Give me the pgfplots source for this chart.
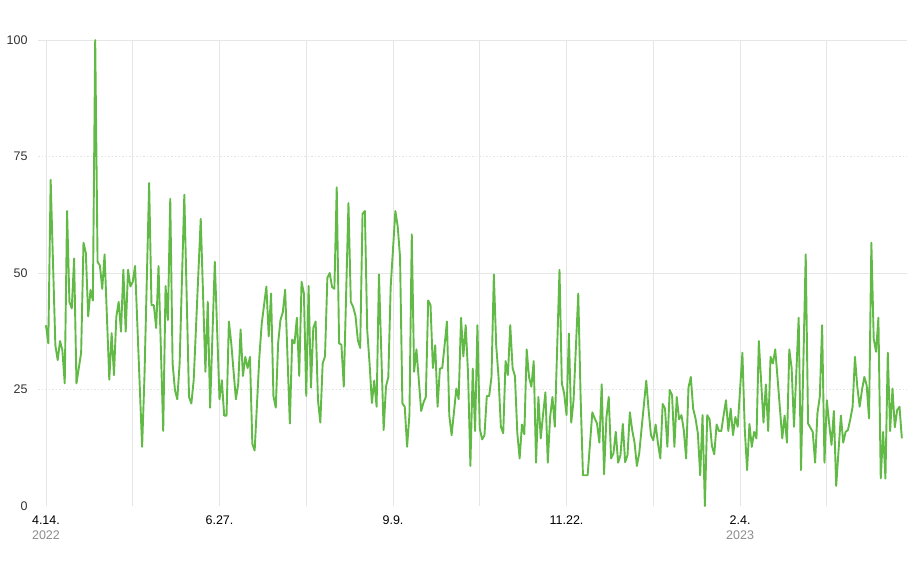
\documentclass[border=0pt]{standalone}
\usepackage{fontspec}
\setmainfont{Liberation Sans}
\usepackage{pgfplots}
\pgfplotsset{compat=1.18}
\definecolor{linegreen}{RGB}{98,186,70}
\definecolor{gridgray}{RGB}{230,230,230}
\definecolor{dotgray}{RGB}{228,228,228}
\definecolor{labgray}{RGB}{51,51,51}
\definecolor{yeargray}{RGB}{140,140,140}

\begin{document}
\begin{tikzpicture}
\useasboundingbox (-38pt,-54pt) rectangle (871pt,506pt);
\begin{axis}[
  at={(0,0)}, anchor=south west,
  scale only axis, width=869pt, height=466pt,
  xmin=-3.4, xmax=367.2, ymin=0, ymax=100,
  axis line style={draw=none},
  major tick length=0pt,
  xtick={0,37,...,333},
  xticklabels={{4.14.\\\textcolor{yeargray}{2022}},,6.27.,,9.9.,,11.22.,,{2.4.\\\textcolor{yeargray}{2023}},},
  xmajorgrids,
  grid style={gridgray, line width=0.8pt},
  ytick={0,25,50,75,100},
  font=\fontsize{12.5}{15}\selectfont,
  yticklabel style={text=labgray, xshift=-7pt},
  xticklabel style={align=center, text=black, yshift=-6.5pt},
  /pgf/number format/assume math mode=true,
  clip=false,
]
% horizontal guides: solid at 50/100, dotted at 25/75
\draw[gridgray, line width=0.8pt] (rel axis cs:0,0.5) -- (rel axis cs:1,0.5);
\draw[gridgray, line width=0.8pt] (rel axis cs:0,1) -- (rel axis cs:1,1);
\draw[dotgray, line width=0.7pt, dash pattern=on 1.5pt off 2pt] (rel axis cs:0,0.25) -- (rel axis cs:1,0.25);
\draw[dotgray, line width=0.7pt, dash pattern=on 1.5pt off 2pt] (rel axis cs:0,0.75) -- (rel axis cs:1,0.75);

\addplot[linegreen, line width=1.9pt, line join=round, mark=none] coordinates {
(0,38.8) (1,34.9) (2,70) (4,34.5) (5,31.3) (6,35.4) (7,33.4) (8,26.3) (9,63.3) (10,43.8)
(11,42.4) (12,53.1) (13,26.3) (15,32.9) (16,56.5) (17,54.3) (18,40.7) (19,46.4) (20,44.1) (21,100)
(22,52.4) (23,51.6) (24,46.6) (25,54) (27,27.1) (28,37.1) (29,28.1) (30,40.6) (31,43.8) (32,37.4)
(33,50.7) (34,37.4) (35,50.7) (36,47.1) (37,48.1) (38,51.5) (41,12.7) (42,27.7) (44,69.3) (45,43.1)
(46,43.1) (47,38.2) (48,51.5) (50,16.1) (51,47.2) (52,39.9) (53,65.9) (54,30.6) (55,24.9) (56,22.9)
(57,30.6) (59,66.8) (61,23.4) (62,22) (63,27) (66,61.6) (68,28.8) (69,43.8) (70,21.1) (72,52.4)
(74,22.9) (75,27) (76,19.4) (77,19.4) (78,39.6) (79,35) (81,22.9) (82,26.3) (83,37.9) (84,27.9)
(85,32) (86,29.6) (87,32) (88,13.4) (89,11.9) (91,32) (92,39.1) (94,47.1) (95,36.4) (96,45.6)
(97,23.6) (98,21.1) (99,34.9) (100,39.9) (101,41.6) (102,46.4) (104,17.7) (105,35.7) (106,34.9) (107,40.4)
(108,27.9) (109,48.1) (110,45.6) (111,23.6) (112,47.2) (113,25.4) (114,38.2) (115,39.6) (116,22.7) (117,17.9)
(118,30.6) (119,32.1) (120,49) (121,50) (122,47) (123,46.6) (124,68.4) (125,34.9) (126,34.6) (127,25.6)
(129,65) (130,43.8) (131,42.7) (132,40.8) (133,35.6) (134,33.9) (135,62.7) (136,63.3) (137,37.7) (138,30.6)
(139,22.1) (140,26.9) (141,21.3) (142,49.7) (144,16.3) (145,25.6) (146,27.7) (147,47) (149,63.3) (150,60)
(151,53.4) (152,22) (153,21.3) (154,12.7) (155,19.5) (156,58.3) (157,28.8) (158,33.6) (160,20.4) (161,22.2)
(162,23.4) (163,44.1) (164,43.1) (165,29.6) (166,34.5) (167,21.3) (168,29.5) (169,29.6) (170,34.5) (171,39.6)
(172,19.4) (173,15.2) (175,25.2) (176,22.9) (177,40.4) (178,32.1) (179,38.8) (180,28.4) (181,8.6) (182,29.5)
(183,16.1) (184,38.8) (185,16.6) (186,14.3) (187,15.2) (188,23.6) (189,23.6) (190,27.7) (191,49.7) (192,34.5)
(193,27.7) (194,17) (195,15.6) (196,31.1) (197,28.1) (198,38.8) (199,29.6) (200,27.9) (201,15.7) (202,10.2)
(203,17.5) (204,15.4) (205,33.6) (206,27.7) (207,25.6) (208,31.1) (209,9.3) (210,23.4) (211,14.5) (212,19.7)
(213,24.4) (214,9.3) (215,19.1) (216,23.4) (217,17) (219,50.7) (220,26.3) (221,24.1) (222,19.5) (223,37)
(224,17.9) (225,22.7) (227,45.6) (228,23.4) (229,6.6) (231,6.6) (233,20.1) (234,18.8) (235,17.7) (236,13.6)
(237,26.1) (238,6.8) (239,18.9) (240,23.4) (241,10.2) (242,11.3) (243,15.9) (244,9.3) (245,10.9) (246,17.6)
(247,9.4) (248,10.9) (249,20.1) (250,16.3) (251,13.6) (252,8.6) (253,11.3) (254,16.6) (256,26.9) (257,20.6)
(258,15.2) (259,14.1) (260,17.5) (261,13.4) (262,10.2) (263,21.9) (264,20.9) (265,12.7) (266,24.9) (267,23.8)
(268,12.7) (269,23.4) (270,18.6) (271,19.5) (272,16.3) (273,10.2) (274,25.4) (275,27.7) (276,20.9) (277,18.8)
(278,15.6) (279,6.6) (280,19.5) (281,0) (282,19.5) (283,18.6) (284,12.9) (285,11.1) (286,17.5) (287,16.1)
(288,16.1) (289,19.5) (290,22.7) (291,16.1) (292,20.9) (293,15.2) (294,19.1) (295,17) (297,32.9) (298,16.6)
(299,7.7) (300,17.6) (301,12.7) (302,15.9) (303,14.5) (304,35.4) (306,17.9) (307,26.1) (308,16.1) (309,32)
(310,30.6) (311,33.6) (312,27.4) (314,14.5) (315,19.4) (316,13.6) (317,33.6) (318,29.6) (319,17) (321,40.4)
(322,7.7) (324,54) (325,17.7) (327,15.9) (328,9.3) (329,19.9) (330,23.4) (331,38.8) (332,9.3) (333,22.7)
(334,17.7) (335,13.1) (336,20.4) (337,4.3) (339,19.4) (340,13.6) (341,15.9) (342,16.3) (343,18.6) (344,21.3)
(345,32) (346,25.6) (347,21.3) (348,24.9) (349,27.7) (350,25.9) (351,18.8) (352,56.5) (353,35.9) (354,33.1)
(355,40.4) (356,5.9) (357,15.9) (358,5.9) (359,32.9) (360,16.1) (361,25.2) (362,16.9) (363,20.6) (364,21.3)
(365,14.5)
};
\end{axis}
\end{tikzpicture}
\end{document}
